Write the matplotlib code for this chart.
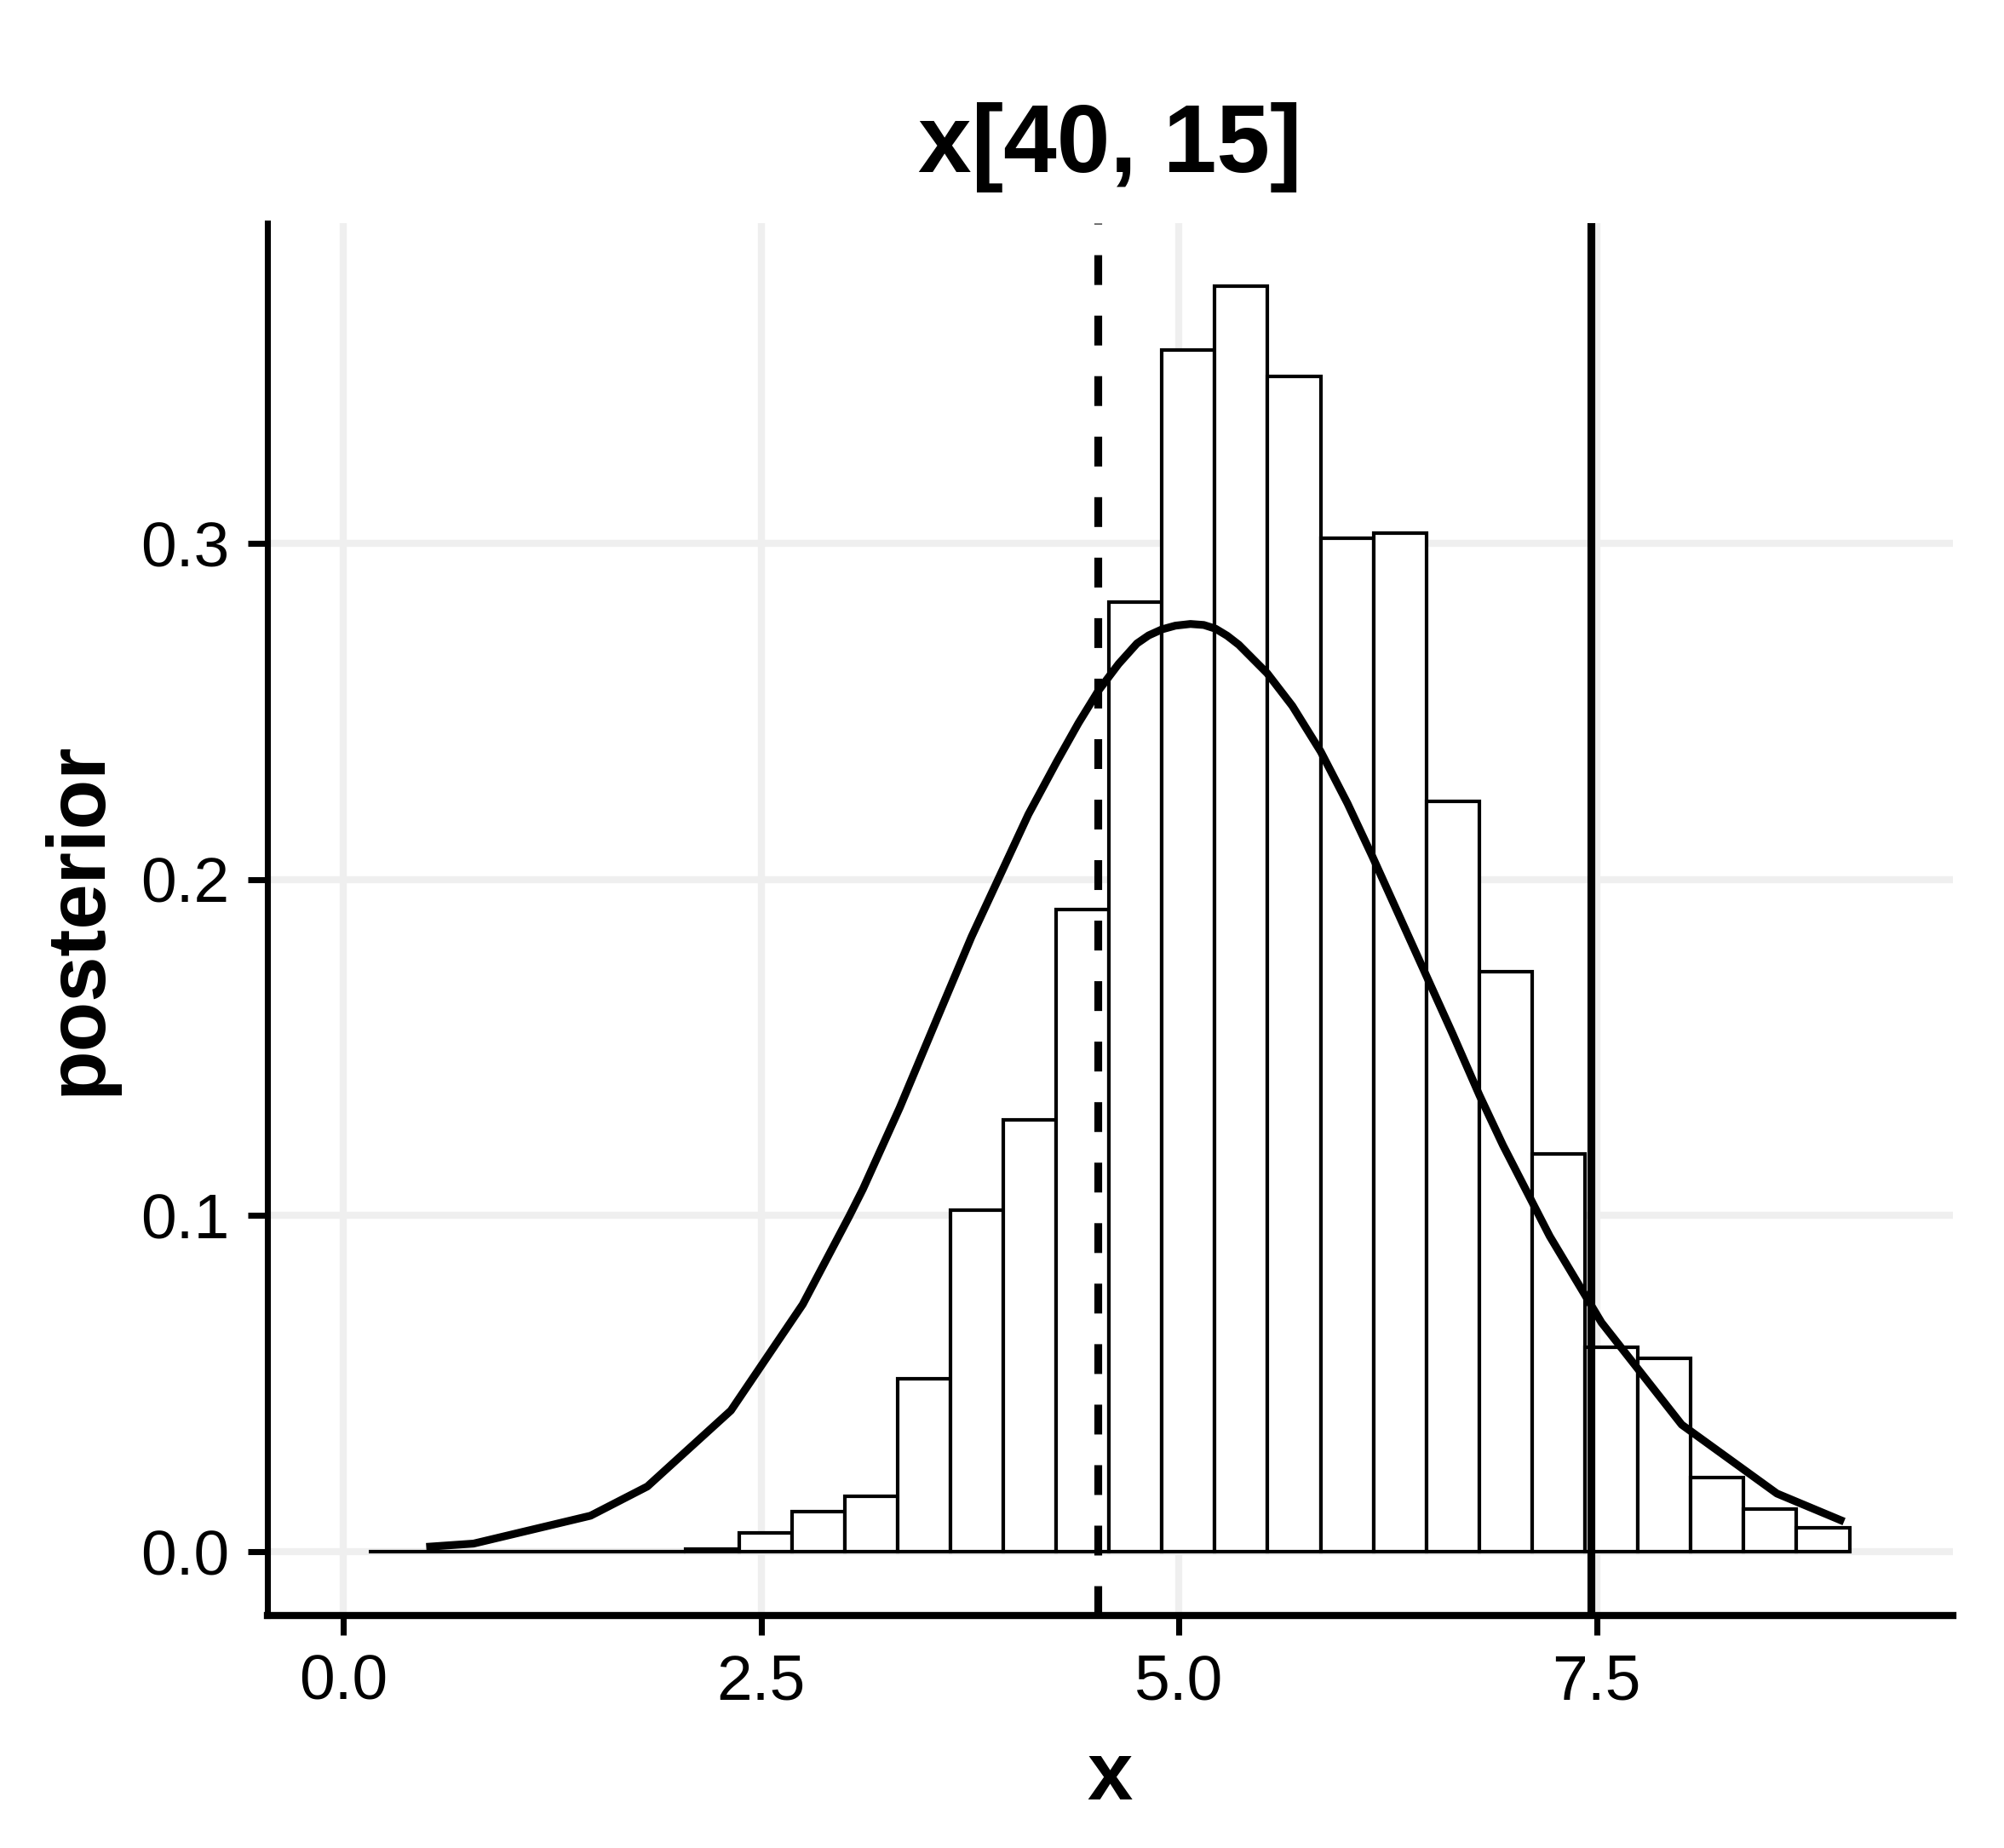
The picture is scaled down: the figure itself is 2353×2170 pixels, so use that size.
import numpy as np
import matplotlib
matplotlib.use("Agg")
import matplotlib.pyplot as plt

# ── Data ─────────────────────────────────────────────────────────────────────
BIN_START = 0.152
BIN_WIDTH = 0.3165
bar_heights = [0.0, 0.0, 0.0, 0.0, 0.0, 0.0, 0.0008, 0.0055, 0.0118, 0.0165,
               0.0514, 0.1017, 0.1286, 0.1912, 0.2826, 0.3577, 0.3766, 0.3497,
               0.3015, 0.3032, 0.2232, 0.1726, 0.1183, 0.0608, 0.0576, 0.0221,
               0.0126, 0.0072]

curve_x = [0.52, 0.78, 1.48, 1.82, 2.32, 2.75, 3.03, 3.11, 3.33, 3.56, 3.76,
           3.93, 4.10, 4.27, 4.40, 4.52, 4.64, 4.75, 4.82, 4.90, 4.98, 5.07,
           5.15, 5.22, 5.29, 5.36, 5.53, 5.68, 5.85, 6.01, 6.16, 6.31, 6.48,
           6.64, 6.80, 6.94, 7.22, 7.53, 8.01, 8.58, 8.96]
curve_y = [0.0015, 0.0024, 0.0107, 0.0194, 0.0420, 0.0736, 0.1000, 0.1079,
           0.1321, 0.1594, 0.1830, 0.2012, 0.2194, 0.2351, 0.2466, 0.2563,
           0.2642, 0.2703, 0.2727, 0.2745, 0.2756, 0.2761, 0.2758, 0.2747,
           0.2726, 0.2699, 0.2614, 0.2517, 0.2381, 0.2227, 0.2068, 0.1903,
           0.1716, 0.1540, 0.1358, 0.1210, 0.0939, 0.0682, 0.0378, 0.0173,
           0.0094]

dashed_x = 4.515
solid_x = 7.466

x_ticks = [0.0, 2.5, 5.0, 7.5]
y_ticks = [0.0, 0.1, 0.2, 0.3]

# ── Style ────────────────────────────────────────────────────────────────────
plt.rcParams["font.family"] = ["Liberation Sans", "DejaVu Sans"]
GRID = "#EFEFEF"

fig = plt.figure(figsize=(2353 / 300, 2170 / 300), dpi=300)
ax = fig.add_axes([0.13345, 0.12581, 0.97450 - 0.13345, 0.87926 - 0.12581])

# histogram (zero-height bins still drawn as a flat outline)
n_bins = len(bar_heights)
lefts = BIN_START + BIN_WIDTH * np.arange(n_bins)
ax.bar(lefts, bar_heights, width=BIN_WIDTH, align="edge",
       facecolor="white", edgecolor="black", linewidth=1.0, zorder=2)

ax.plot(curve_x, curve_y, color="black", linewidth=2.2, zorder=3)

# reference lines, drawn top -> bottom so the dash pattern lines up at the top
xt = ax.get_xaxis_transform()
ax.plot([dashed_x, dashed_x], [1, 0], transform=xt, color="black",
        linewidth=2.2, linestyle=(3.7, (3.82, 3.93)), zorder=4)
ax.plot([solid_x, solid_x], [1, 0], transform=xt, color="black",
        linewidth=2.2, zorder=4)

ax.set_xlim(-0.4536, 9.633)
ax.set_ylim(-0.019, 0.3954)
ax.set_xticks(x_ticks)
ax.set_yticks(y_ticks)
ax.set_xticklabels([f"{v:.1f}" for v in x_ticks])
ax.set_yticklabels([f"{v:.1f}" for v in y_ticks])

ax.grid(True, color=GRID, linewidth=2.0, zorder=0)
ax.set_axisbelow(True)

for side in ["top", "right"]:
    ax.spines[side].set_visible(False)
ax.spines["left"].set_linewidth(1.7)
ax.spines["bottom"].set_linewidth(2.0)
ax.tick_params(axis="both", length=5.5, width=1.7, color="black",
               labelsize=18, labelcolor="black", pad=5.3)

# titles
xc = (0.13345 + 0.97450) / 2
fig.text(xc, 1 - 202 / 2170, "x[40, 15]", ha="center", va="baseline",
         fontsize=27, fontweight="bold")
fig.text(xc, 1 - 2113 / 2170, "x", ha="center", va="baseline",
         fontsize=23, fontweight="bold")
fig.text(118 / 2353, 1 - 1078 / 2170, "posterior", ha="center", va="baseline",
         rotation=90, rotation_mode="anchor", fontsize=23, fontweight="bold")

fig.savefig("out.png", dpi=300)
plt.close(fig)
